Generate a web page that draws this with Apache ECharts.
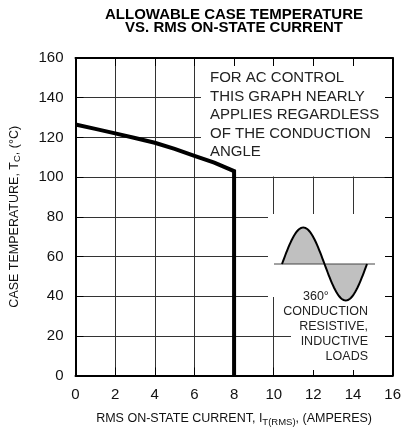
<!DOCTYPE html>
<html>
<head>
<meta charset="utf-8">
<script src="https://cdn.jsdelivr.net/npm/echarts@6/dist/echarts.min.js"></script>
<style>
html,body{margin:0;padding:0;background:#fff;}
#chart{width:404px;height:432px;}
</style>
</head>
<body>
<div id="chart"></div>
<script>
// ---- data ----
var currentA = [0, 1, 2, 3, 4, 5, 6, 7, 8, 8];
var caseTempC = [126.5, 124.3, 122, 119.7, 117.3, 114.2, 110.7, 107.3, 103, 0];
var xTicks = [0, 2, 4, 6, 8, 10, 12, 14, 16];
var yTicks = [0, 20, 40, 60, 80, 100, 120, 140, 160];
var titleLines = ['ALLOWABLE CASE TEMPERATURE', 'VS. RMS ON-STATE CURRENT'];
var noteLines = ['FOR AC CONTROL', 'THIS GRAPH NEARLY', 'APPLIES REGARDLESS', 'OF THE CONDUCTION', 'ANGLE'];
var insetLines = ['CONDUCTION', 'RESISTIVE,', 'INDUCTIVE', 'LOADS'];
var insetAngle = '360°';

var FONT = '"Liberation Sans", Arial, Helvetica, sans-serif';
var chart = echarts.init(document.getElementById('chart'), null, {renderer: 'canvas'});

var pairs = currentA.map(function (x, i) { return [x, caseTempC[i]]; });

// Decorative sine-wave glyph (icon, not data) in pixel space
var sx0 = 282, sx1 = 367, sBase = 264, sAmp = 36.5;
var curvePts = [];
for (var i = 0; i <= 80; i++) {
  var px = sx0 + (sx1 - sx0) * i / 80;
  curvePts.push([px, sBase - sAmp * Math.sin(2 * Math.PI * i / 80)]);
}
var fillPts = curvePts.concat([[sx1, sBase]]);

var axisCommon = {
  min: 0,
  axisLine: {show: true, onZero: false, lineStyle: {color: '#000', width: 2}},
  axisTick: {show: true, inside: true, length: 8, lineStyle: {color: '#000', width: 1}},
  splitLine: {show: false}
};

var option = {
  animation: false,
  backgroundColor: '#fff',
  textStyle: {fontFamily: FONT},
  grid: {left: 75, top: 58, width: 320, height: 320, containLabel: false},
  xAxis: [
    Object.assign({}, axisCommon, {
      type: 'value', position: 'bottom', max: 16, interval: 2,
      axisLabel: {show: true, fontSize: 15, color: '#111', margin: 12, fontFamily: FONT,
        formatter: function (v) { return xTicks.indexOf(v) >= 0 ? String(v) : ''; }},
      splitLine: {show: true, lineStyle: {color: '#333', width: 1}},
      name: '{a|RMS ON-STATE CURRENT, I}{s|T(RMS)}{a|, (AMPERES)}',
      nameLocation: 'middle', nameGap: 37,
      nameTextStyle: {
        rich: {
          a: {fontSize: 12.5, fontFamily: FONT, color: '#111', lineHeight: 14.5, verticalAlign: 'top'},
          s: {fontSize: 9.5, fontFamily: FONT, color: '#111', lineHeight: 14.5, verticalAlign: 'bottom'}
        }
      }
    }),
    Object.assign({}, axisCommon, {
      type: 'value', position: 'top', max: 16, interval: 2,
      axisLabel: {show: false}
    })
  ],
  yAxis: [
    Object.assign({}, axisCommon, {
      type: 'value', position: 'left', max: 160, interval: 20,
      axisLabel: {show: true, fontSize: 15, color: '#111', margin: 12, fontFamily: FONT,
        formatter: function (v) { return yTicks.indexOf(v) >= 0 ? String(v) : ''; }},
      splitLine: {show: true, lineStyle: {color: '#333', width: 1}},
      name: '{a|CASE TEMPERATURE, T}{s|C}{a|, (°C)}',
      nameLocation: 'middle', nameGap: 53, nameRotate: 90,
      nameTextStyle: {
        rich: {
          a: {fontSize: 12.5, fontFamily: FONT, color: '#111', lineHeight: 14.5, verticalAlign: 'top'},
          s: {fontSize: 9.5, fontFamily: FONT, color: '#111', lineHeight: 14.5, verticalAlign: 'bottom'}
        }
      }
    }),
    Object.assign({}, axisCommon, {
      type: 'value', position: 'right', max: 160, interval: 20,
      axisLabel: {show: false}
    })
  ],
  series: [{
    type: 'line',
    data: pairs,
    xAxisIndex: 0, yAxisIndex: 0,
    showSymbol: false, symbol: 'none',
    z: 5,
    lineStyle: {color: '#000', width: 4, join: 'miter'}
  }],
  graphic: {
    elements: [
      // white backgrounds of the annotation boxes (hide grid lines)
      {type: 'rect', z: 1, shape: {x: 201, y: 66, width: 184, height: 110.5}, style: {fill: '#fff'}},
      {type: 'rect', z: 1, shape: {x: 268, y: 214, width: 117, height: 83}, style: {fill: '#fff'}},
      {type: 'rect', z: 1, shape: {x: 276, y: 296, width: 109, height: 40}, style: {fill: '#fff'}},
      {type: 'rect', z: 1, shape: {x: 291, y: 335, width: 94, height: 35}, style: {fill: '#fff'}},
      // title
      {type: 'text', z: 3, x: 234, y: 7.5, style: {
        text: titleLines.join('\n'), fontSize: 15, fontWeight: 'bold', fontFamily: FONT,
        fill: '#000', align: 'center', verticalAlign: 'top', lineHeight: 13.8}},
      // note text
      {type: 'text', z: 3, x: 210, y: 68.8, style: {
        text: noteLines.join('\n'), fontSize: 15, fontFamily: FONT,
        fill: '#222', align: 'left', verticalAlign: 'top', lineHeight: 18.5}},
      // sine glyph
      {type: 'polygon', z: 2, shape: {points: fillPts}, style: {fill: '#c0c0c0', stroke: null}},
      {type: 'line', z: 2, shape: {x1: 274, y1: sBase, x2: 375, y2: sBase}, style: {stroke: '#444', lineWidth: 1}},
      {type: 'polyline', z: 3, shape: {points: curvePts}, style: {stroke: '#000', lineWidth: 2, fill: null}},
      // inset text
      {type: 'text', z: 3, x: 303, y: 297, style: {
        text: insetAngle, fontSize: 12.5, fontFamily: FONT, fill: '#222', align: 'left', verticalAlign: 'middle'}},
      {type: 'text', z: 3, x: 368, y: 304.5, style: {
        text: insetLines.join('\n'), fontSize: 12.5, fontFamily: FONT, fill: '#222',
        align: 'right', verticalAlign: 'top', lineHeight: 15}}
    ]
  }
};
chart.setOption(option);
</script>
</body>
</html>
